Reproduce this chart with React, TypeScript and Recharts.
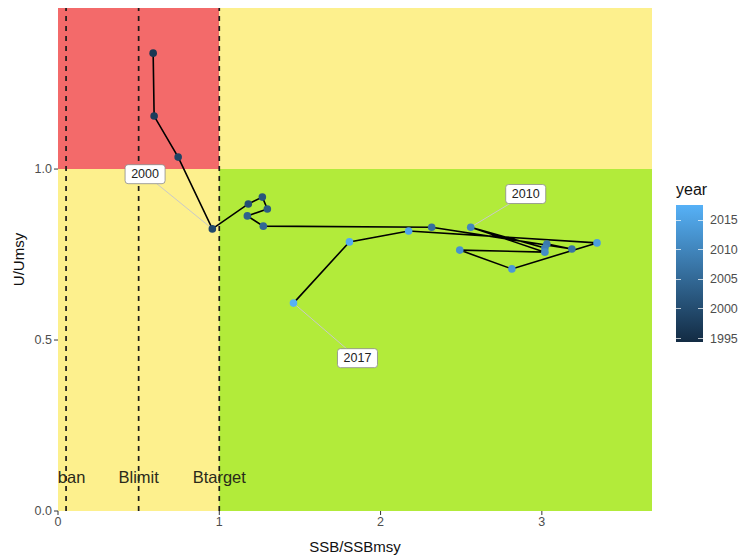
import React from 'react';
import {
  ComposedChart,
  Line,
  XAxis,
  YAxis,
  ReferenceArea,
  ReferenceLine,
  ReferenceDot,
} from 'recharts';

// ---- data ----
const years = [1997, 1998, 1999, 2000, 2001, 2002, 2003, 2004, 2005, 2006, 2007, 2008, 2009, 2010, 2011, 2012, 2013, 2014, 2015, 2016, 2017];
const ssb = [0.59, 0.596, 0.745, 0.957, 1.18, 1.267, 1.298, 1.174, 1.273, 2.317, 3.186, 3.031, 3.019, 2.559, 3.019, 2.491, 2.814, 3.342, 2.174, 1.807, 1.46];
const umsy = [1.339, 1.155, 1.035, 0.825, 0.898, 0.918, 0.883, 0.863, 0.833, 0.83, 0.766, 0.781, 0.769, 0.83, 0.757, 0.763, 0.708, 0.784, 0.819, 0.787, 0.608];

const xTicks = [0, 1, 2, 3];
const yTicks = [0, 0.5, 1.0];
const refValues = [0.05, 0.5, 1];
const refNames = ['Bban', 'Blimit', 'Btarget'];
const refLabelY = 0.1;

const labelYears = [2000, 2010, 2017];
const labelSsb = [0.54, 2.9, 1.857];
const labelU = [0.985, 0.927, 0.447];

const legendBreaks = [1995, 2000, 2005, 2010, 2015];
const yearLimits = [1995, 2017];

const X_MAX = 3.683;
const Y_MAX = 1.471;

const data = years.map((y, i) => ({ year: y, ssb: ssb[i], u: umsy[i] }));

const LOW = [0x13, 0x2b, 0x43];
const HIGH = [0x56, 0xb1, 0xf7];
function yearColor(y: number) {
  const t = (y - yearLimits[0]) / (yearLimits[1] - yearLimits[0]);
  const c = LOW.map((l, i) => Math.round(l + (HIGH[i] - l) * t));
  return `rgb(${c[0]},${c[1]},${c[2]})`;
}

const RED = '#F36A6A';
const YELLOW = '#FDF08D';
const GREEN = '#B2EB3A';

const PLOT_LEFT = 58;
const PLOT_RIGHT = 652;
const PLOT_TOP = 8;
const PLOT_BOTTOM = 511;

const FONT = '"Liberation Sans", Arial, sans-serif';

export default function App() {
  const barTop = 205;
  const barH = 137;
  const barBottom = barTop + barH;
  const breakY = (b: number) =>
    barBottom - barH * (0.025 + 0.95 * (b - yearLimits[0]) / (yearLimits[1] - yearLimits[0]));

  return (
    <div style={{ position: 'absolute', left: 0, top: 0, width: 745, height: 559, background: '#fff', fontFamily: FONT }}>
      <ComposedChart
        width={745}
        height={559}
        data={data}
        margin={{ top: PLOT_TOP, right: 745 - PLOT_RIGHT, bottom: 0, left: 0 }}
      >
        <defs>
          <clipPath id="panelClipText">
            <rect x={PLOT_LEFT} y={PLOT_TOP} width={PLOT_RIGHT - PLOT_LEFT} height={PLOT_BOTTOM - PLOT_TOP} />
          </clipPath>
        </defs>
        <XAxis
          type="number"
          dataKey="ssb"
          domain={[0, X_MAX]}
          ticks={xTicks}
          allowDataOverflow
          axisLine={false}
          tickLine={{ stroke: '#333' }}
          tickSize={4}
          height={48}
          tick={{ fill: '#4D4D4D', fontSize: 12.5, fontFamily: FONT }}
          label={{ value: 'SSB/SSBmsy', position: 'insideBottom', offset: 7, fill: '#111', fontSize: 15, fontFamily: FONT }}
        />
        <YAxis
          type="number"
          dataKey="u"
          domain={[0, Y_MAX]}
          ticks={yTicks}
          allowDataOverflow
          axisLine={false}
          tickLine={{ stroke: '#333' }}
          tickSize={4}
          width={PLOT_LEFT}
          tickFormatter={(v: number) => v.toFixed(1)}
          tick={{ fill: '#4D4D4D', fontSize: 12.5, fontFamily: FONT }}
          label={() => (
            <text
              x={18}
              y={(PLOT_TOP + PLOT_BOTTOM) / 2}
              transform={`rotate(-90,18,${(PLOT_TOP + PLOT_BOTTOM) / 2})`}
              textAnchor="middle"
              dominantBaseline="central"
              fill="#111"
              fontSize={15}
              fontFamily={FONT}
            >
              U/Umsy
            </text>
          )}
        />
        <ReferenceArea x1={0} x2={1} y1={1} y2={Y_MAX} fill={RED} fillOpacity={1} stroke="none" />
        <ReferenceArea x1={1} x2={X_MAX} y1={1} y2={Y_MAX} fill={YELLOW} fillOpacity={1} stroke="none" />
        <ReferenceArea x1={0} x2={1} y1={0} y2={1} fill={YELLOW} fillOpacity={1} stroke="none" />
        <ReferenceArea x1={1} x2={X_MAX} y1={0} y2={1} fill={GREEN} fillOpacity={1} stroke="none" />
        {refValues.map((v, i) => (
          <ReferenceLine
            key={refNames[i]}
            x={v}
            stroke="#1a1a1a"
            strokeWidth={1.7}
            strokeDasharray="5 5"
            label={(p: any) => {
              const vb = p.viewBox || {};
              const yy = vb.y + vb.height * (1 - refLabelY / Y_MAX);
              return (
                <text
                  x={vb.x}
                  y={yy}
                  textAnchor="middle"
                  dominantBaseline="central"
                  fill="#2a2a1a"
                  fontSize={16.5}
                  fontFamily={FONT}
                  clipPath="url(#panelClipText)"
                >
                  {refNames[i]}
                </text>
              );
            }}
          />
        ))}
        <Line
          type="linear"
          dataKey="u"
          stroke="#000"
          strokeWidth={1.6}
          isAnimationActive={false}
          dot={(p: any) => (
            <circle key={`d${p.index}`} cx={p.cx} cy={p.cy} r={3.8} fill={yearColor(p.payload.year)} stroke="none" />
          )}
          activeDot={false}
        />
        {labelYears.map((yr, i) => {
          const idx = years.indexOf(yr);
          return (
            <ReferenceLine
              key={`seg${yr}`}
              segment={[
                { x: ssb[idx], y: umsy[idx] },
                { x: labelSsb[i], y: labelU[i] },
              ]}
              stroke="#C9C9C9"
              strokeWidth={1}
              ifOverflow="visible"
            />
          );
        })}
        {labelYears.map((yr, i) => (
          <ReferenceDot
            key={`lab${yr}`}
            x={labelSsb[i]}
            y={labelU[i]}
            r={0}
            ifOverflow="visible"
            shape={(p: any) => (
              <g>
                <rect x={p.cx - 20} y={p.cy - 9.5} width={40} height={19} rx={3} ry={3} fill="#fff" stroke="#8a8a8a" strokeWidth={0.8} />
                <text x={p.cx} y={p.cy} textAnchor="middle" dominantBaseline="central" fill="#222" fontSize={12.5} fontFamily={FONT}>
                  {String(yr)}
                </text>
              </g>
            )}
          />
        ))}
      </ComposedChart>

      {/* colour bar legend */}
      <div style={{ position: 'absolute', left: 676, top: 180, fontSize: 16, color: '#111', lineHeight: '20px' }}>year</div>
      <div
        style={{
          position: 'absolute',
          left: 676,
          top: barTop,
          width: 27,
          height: barH,
          background: `linear-gradient(to bottom, ${yearColor(yearLimits[1])}, ${yearColor((yearLimits[0] + yearLimits[1]) / 2)}, ${yearColor(yearLimits[0])})`,
        }}
      />
      {legendBreaks.map((b) => (
        <React.Fragment key={b}>
          <div style={{ position: 'absolute', left: 676, top: breakY(b) - 0.5, width: 5, height: 1, background: 'rgba(255,255,255,0.7)' }} />
          <div style={{ position: 'absolute', left: 698, top: breakY(b) - 0.5, width: 5, height: 1, background: 'rgba(255,255,255,0.7)' }} />
          <div style={{ position: 'absolute', left: 710, top: breakY(b) - 8, fontSize: 12.5, color: '#4D4D4D', lineHeight: '16px' }}>{b}</div>
        </React.Fragment>
      ))}
    </div>
  );
}
